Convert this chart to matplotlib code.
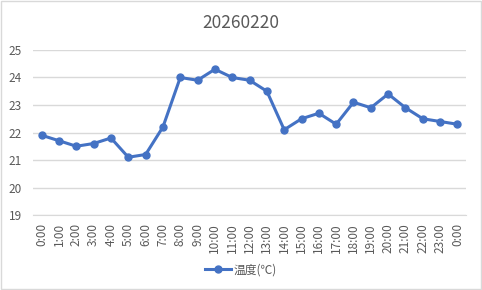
import matplotlib
matplotlib.use("Agg")
import matplotlib.pyplot as plt
from matplotlib.patches import Rectangle

plt.rcParams['font.family'] = ['Noto Sans CJK SC', 'DejaVu Sans']

title = "20260220"
hours = ["0:00", "1:00", "2:00", "3:00", "4:00", "5:00", "6:00", "7:00", "8:00",
         "9:00", "10:00", "11:00", "12:00", "13:00", "14:00", "15:00", "16:00",
         "17:00", "18:00", "19:00", "20:00", "21:00", "22:00", "23:00", "0:00"]
temps = [21.9, 21.7, 21.5, 21.6, 21.8, 21.1, 21.2, 22.2, 24.0, 23.9, 24.3, 24.0,
         23.9, 23.5, 22.1, 22.5, 22.7, 22.3, 23.1, 22.9, 23.4, 22.9, 22.5, 22.4, 22.3]
series_name = "温度(℃)"
y_ticks = [19, 20, 21, 22, 23, 24, 25]

blue = "#4472C4"
grid = "#D9D9D9"
text = "#595959"

fig = plt.figure(figsize=(4.82, 2.90), dpi=100)
fig.patches.append(Rectangle((0.002, 0.003), 0.996, 0.994, transform=fig.transFigure,
                             fill=False, edgecolor=grid, lw=1))
ax = fig.add_axes([0.0685, 0.2586, 0.8985, 0.569])

x = list(range(len(hours)))
ax.plot(x, temps, color=blue, lw=2.2, marker="o", markersize=5, label=series_name)

ax.set_xlim(-0.5, len(hours) - 0.5)
ax.set_ylim(y_ticks[0], y_ticks[-1])
ax.set_yticks(y_ticks)
ax.set_xticks(x)
ax.set_xticklabels(hours, rotation=90)
ax.grid(axis="y", color=grid, lw=1)
ax.set_axisbelow(True)
for s in ["top", "right", "left"]:
    ax.spines[s].set_visible(False)
ax.spines["bottom"].set_color(grid)
ax.tick_params(axis="both", length=0, colors=text, labelsize=8.5)
ax.tick_params(axis="x", pad=6)
ax.tick_params(axis="y", pad=8)

fig.text(0.5, 0.92, title, ha="center", va="center", fontsize=12.5, color=text)
fig.legend(loc="center", bbox_to_anchor=(0.5, 0.07), frameon=False, fontsize=8.5,
           labelcolor=text, handlelength=2.2, handletextpad=0.2)

fig.savefig("out.png", dpi=100)
